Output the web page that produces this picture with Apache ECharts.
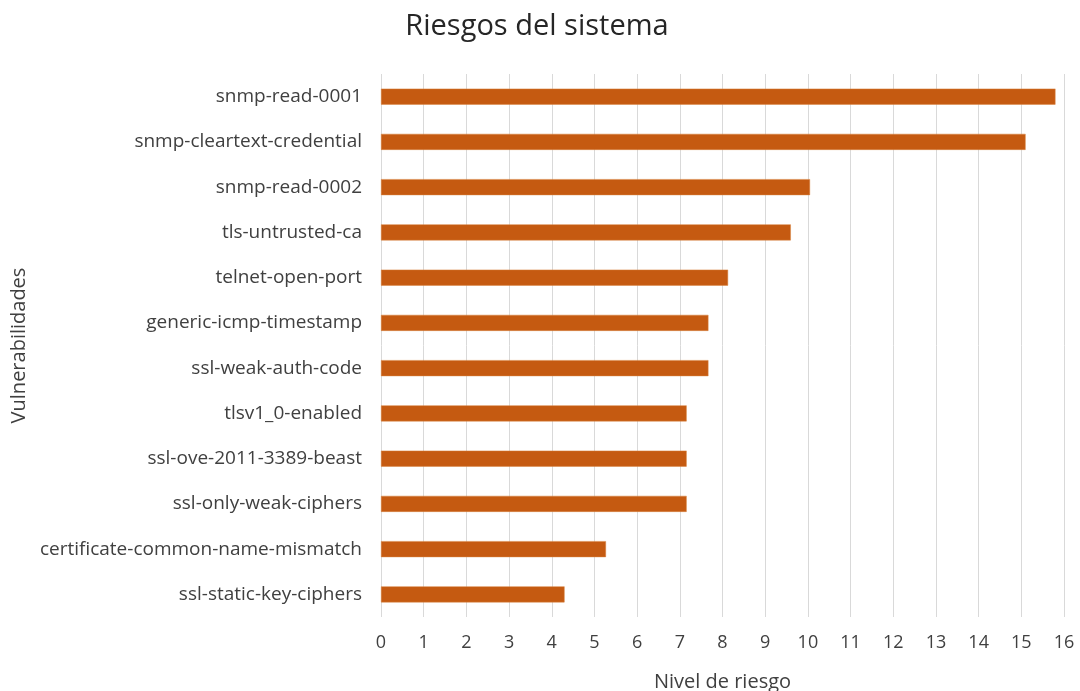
<!DOCTYPE html>
<html>
<head>
<meta charset="utf-8">
<script src="https://cdn.jsdelivr.net/npm/echarts@6/dist/echarts.min.js"></script>
<style>html,body{margin:0;padding:0;background:#fff}#c{width:1080px;height:691px}</style>
</head>
<body>
<div id="c"></div>
<script>
const categories = [
  "snmp-read-0001",
  "snmp-cleartext-credential",
  "snmp-read-0002",
  "tls-untrusted-ca",
  "telnet-open-port",
  "generic-icmp-timestamp",
  "ssl-weak-auth-code",
  "tlsv1_0-enabled",
  "ssl-ove-2011-3389-beast",
  "ssl-only-weak-ciphers",
  "certificate-common-name-mismatch",
  "ssl-static-key-ciphers"
];
const values = [15.8, 15.1, 10.05, 9.6, 8.13, 7.67, 7.67, 7.16, 7.16, 7.16, 5.27, 4.3];
const xTicks = [0, 16, 1];

const font = "Open Sans";
const chart = echarts.init(document.getElementById('c'), null, {renderer: 'canvas'});
chart.setOption({
  animation: false,
  backgroundColor: '#ffffff',
  title: {
    text: 'Riesgos del sistema',
    left: 532, top: 7,
    textAlign: 'center',
    textStyle: {fontFamily: font, fontSize: 29, fontWeight: 'normal', color: '#262626'}
  },
  grid: {left: 381, right: 16, top: 74, bottom: 74, containLabel: false, outerBoundsMode: 'none'},
  xAxis: {
    type: 'value',
    min: xTicks[0], max: xTicks[1], interval: xTicks[2],
    name: 'Nivel de riesgo',
    nameLocation: 'middle',
    nameGap: 55,
    nameTextStyle: {fontFamily: font, fontSize: 20, color: '#404040'},
    axisLine: {show: false},
    axisTick: {show: false},
    axisLabel: {fontFamily: font, fontSize: 18, color: '#404040', margin: 17},
    splitLine: {show: true, lineStyle: {color: '#d9d9d9', width: 1}}
  },
  yAxis: {
    type: 'category',
    data: categories,
    inverse: true,
    name: 'Vulnerabilidades',
    nameLocation: 'middle',
    nameGap: 347,
    nameRotate: 90,
    nameTextStyle: {fontFamily: font, fontSize: 20, color: '#404040'},
    axisLine: {show: false},
    axisTick: {show: false},
    axisLabel: {fontFamily: font, fontSize: 19, color: '#404040', margin: 19},
    splitLine: {show: false}
  },
  series: [{
    type: 'bar',
    data: values,
    barWidth: 16,
    itemStyle: {color: '#c55a11', borderColor: '#d9833f', borderWidth: 0.5}
  }]
});
</script>
</body>
</html>
